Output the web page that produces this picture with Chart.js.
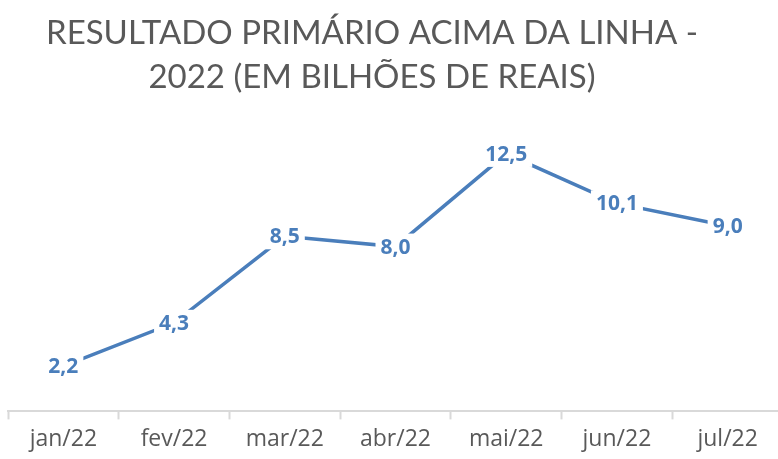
<!DOCTYPE html>
<html>
<head>
<meta charset="utf-8">
<script src="https://cdn.jsdelivr.net/npm/chart.js@4"></script>
<style>
  html, body { margin: 0; padding: 0; background: #fff; overflow: hidden; }
  #wrap { width: 790px; height: 459px; position: relative; }
</style>
</head>
<body>
<div id="wrap"><canvas id="myChart"></canvas></div>
<script>
// data
var months = ["jan/22", "fev/22", "mar/22", "abr/22", "mai/22", "jun/22", "jul/22"];
var resultado = [2.2, 4.3, 8.5, 8.0, 12.5, 10.1, 9.0];
var titleLines = ["RESULTADO PRIMÁRIO ACIMA DA LINHA -", "2022 (EM BILHÕES DE REAIS)"];

var lineColor = '#4a7ebb';

// title drawn by hand so it can sit off-centre like the original
var titlePlugin = {
  id: 'titleLines',
  afterDraw: function (chart) {
    var ctx = chart.ctx;
    ctx.save();
    ctx.fillStyle = '#595959';
    ctx.font = '33px Lato';
    ctx.textAlign = 'center';
    ctx.textBaseline = 'alphabetic';
    ctx.fillText(titleLines[0], 372, 44);
    ctx.fillText(titleLines[1], 372, 88);
    ctx.restore();
  }
};

// value labels centred on the points, with a white box that cuts the line
var labelPlugin = {
  id: 'pointLabels',
  afterDatasetsDraw: function (chart) {
    var ctx = chart.ctx;
    var meta = chart.getDatasetMeta(0);
    ctx.save();
    ctx.font = 'bold 21px "Open Sans"';
    ctx.textAlign = 'center';
    ctx.textBaseline = 'middle';
    meta.data.forEach(function (pt, i) {
      var txt = resultado[i].toFixed(1).replace('.', ',');
      var w = ctx.measureText(txt).width;
      ctx.fillStyle = '#ffffff';
      ctx.fillRect(pt.x - w / 2 - 5, pt.y - 13, w + 10, 26);
      ctx.fillStyle = lineColor;
      ctx.fillText(txt, pt.x, pt.y + 1);
    });
    ctx.restore();
  }
};

function displayChart() {
  var ctx = document.getElementById('myChart').getContext('2d');
  var chart = new Chart(ctx, {
    type: 'line',
    data: {
      labels: months,
      datasets: [{
        label: "Resultado primário",
        data: resultado,
        borderColor: lineColor,
        borderWidth: 3.5,
        tension: 0,
        pointRadius: 0,
        fill: false
      }]
    },
    options: {
      responsive: true,
      maintainAspectRatio: false,
      animation: false,
      layout: { padding: { top: 123, left: 8, right: 7, bottom: 0 } },
      plugins: {
        legend: { display: false },
        title: { display: false },
        tooltip: { enabled: false }
      },
      scales: {
        x: {
          offset: true,
          border: { color: '#d9d9d9', width: 2 },
          grid: {
            offset: true,
            drawOnChartArea: false,
            drawTicks: true,
            tickLength: 8,
            tickWidth: 2,
            tickColor: '#d9d9d9'
          },
          ticks: {
            color: '#595959',
            font: { family: 'Open Sans', size: 23 },
            padding: 6,
            maxRotation: 0,
            autoSkip: false
          }
        },
        y: {
          display: false,
          min: 0,
          max: 14
        }
      }
    },
    plugins: [titlePlugin, labelPlugin]
  });
}

displayChart();
</script>
</body>
</html>
